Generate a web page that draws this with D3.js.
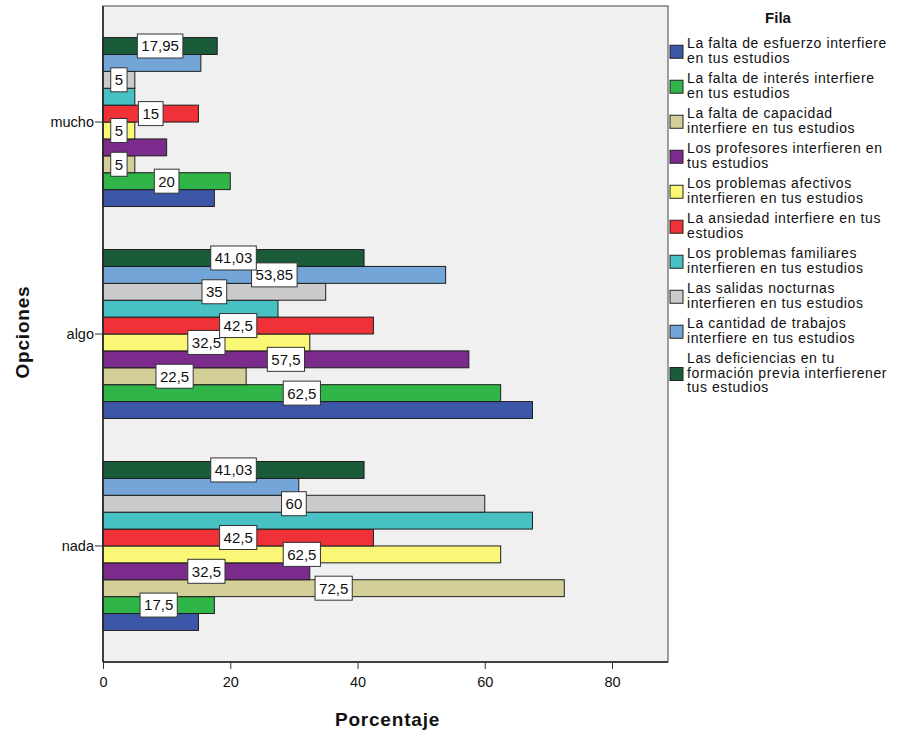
<!DOCTYPE html>
<html>
<head>
<meta charset="utf-8">
<script src="https://cdn.jsdelivr.net/npm/d3@7"></script>
<style>
  body { margin: 0; background: #fff; }
  text { font-family: "Liberation Sans", Arial, sans-serif; }
</style>
</head>
<body>
<div id="chart"></div>
<script>
// categories on the y axis, top to bottom
const categories = ['mucho', 'algo', 'nada']

// percentage per category [mucho, algo, nada]
const esfuerzo   = [17.5, 67.5, 15]
const interes    = [20, 62.5, 17.5]
const capacidad  = [5, 22.5, 72.5]
const profesores = [10, 57.5, 32.5]
const afectivos  = [5, 32.5, 62.5]
const ansiedad   = [15, 42.5, 42.5]
const familiares = [5, 27.5, 67.5]
const salidas    = [5, 35, 60]
const trabajos   = [15.38, 53.85, 30.77]
const formacion  = [17.95, 41.03, 41.03]

const seriesValues = [esfuerzo, interes, capacidad, profesores, afectivos,
                      ansiedad, familiares, salidas, trabajos, formacion]

const legendLines = [
  ['La falta de esfuerzo interfiere', 'en tus estudios'],
  ['La falta de interés interfiere', 'en tus estudios'],
  ['La falta de capacidad', 'interfiere en tus estudios'],
  ['Los profesores interfieren en', 'tus estudios'],
  ['Los problemas afectivos', 'interfieren en tus estudios'],
  ['La ansiedad interfiere en tus', 'estudios'],
  ['Los problemas familiares', 'interfieren en tus estudios'],
  ['Las salidas nocturnas', 'interfieren en tus estudios'],
  ['La cantidad de trabajos', 'interfiere en tus estudios'],
  ['Las deficiencias en tu', 'formación previa interfierener', 'tus estudios']
]

const colors = ['#3d57a8', '#2fb548', '#d4cf98', '#7a2b8c', '#fbf776',
                '#ee3237', '#47c1c4', '#cbcbcb', '#73a5d9', '#1a5b39']

// which series carry a value label, per category (series index)
const labelsMucho = [1, 2, 4, 5, 7, 9]
const labelsAlgo  = [1, 2, 3, 4, 5, 7, 8, 9]
const labelsNada  = [1, 2, 3, 4, 5, 7, 9]
const labelSets = [labelsMucho, labelsAlgo, labelsNada]

const xTicks = [0, 20, 40, 60, 80]

const W = 906, H = 731
const plot = {left: 103, right: 668, top: 6, bottom: 662}

const svg = d3.select('#chart').append('svg')
    .attr('width', W)
    .attr('height', H)

// plot background
svg.append('rect')
    .attr('x', plot.left).attr('y', plot.top)
    .attr('width', plot.right - plot.left)
    .attr('height', plot.bottom - plot.top)
    .attr('fill', '#f0f0f0')
    .attr('stroke', '#444')
    .attr('stroke-width', 1)

const x = d3.scaleLinear()
    .domain([0, 88.8])
    .range([plot.left, plot.right])

const y = d3.scaleBand()
    .domain(categories)
    .range([plot.top, plot.bottom])
    .paddingInner(0.203)
    .paddingOuter(0.149)

// series 0 at the bottom of each group
const ySeries = d3.scaleBand()
    .domain(d3.range(seriesValues.length).reverse())
    .range([0, y.bandwidth()])

const rows = []
categories.forEach((c, ci) => {
    seriesValues.forEach((vals, si) => {
        rows.push({cat: c, ci: ci, si: si, value: vals[ci]})
    })
})

svg.append('g').selectAll('rect')
    .data(rows)
    .enter()
    .append('rect')
        .attr('x', x(0))
        .attr('y', d => y(d.cat) + ySeries(d.si))
        .attr('width', d => x(d.value) - x(0))
        .attr('height', ySeries.bandwidth())
        .attr('fill', d => colors[d.si])
        .attr('stroke', '#1e1e1e')
        .attr('stroke-width', 1)

// value labels in white boxes, centred on the bar
const labelRows = rows.filter(d => labelSets[d.ci].includes(d.si))
const lab = svg.append('g').selectAll('g')
    .data(labelRows)
    .enter()
    .append('g')
        .attr('transform', d => 'translate(' + (x(0) + x(d.value)) / 2 + ','
              + (y(d.cat) + ySeries(d.si) + ySeries.bandwidth() / 2) + ')')

lab.append('text')
    .attr('text-anchor', 'middle')
    .attr('dy', '0.36em')
    .style('font-size', '15px')
    .attr('fill', '#111')
    .text(d => String(d.value).replace('.', ','))

lab.each(function() {
    const g = d3.select(this)
    const bb = g.select('text').node().getBBox()
    g.insert('rect', 'text')
        .attr('x', bb.x - 4)
        .attr('y', -12)
        .attr('width', bb.width + 8)
        .attr('height', 24)
        .attr('fill', '#fff')
        .attr('stroke', '#333')
        .attr('stroke-width', 1)
})

// axes
const xAxis = svg.append('g')
    .attr('transform', 'translate(0,' + plot.bottom + ')')
    .call(d3.axisBottom(x).tickValues(xTicks).tickSize(7).tickPadding(8))
const yAxis = svg.append('g')
    .attr('transform', 'translate(' + plot.left + ',0)')
    .call(d3.axisLeft(y).tickSize(8).tickPadding(1))

;[xAxis, yAxis].forEach(a => {
    a.select('.domain').attr('stroke', '#222').attr('stroke-width', 1.5)
    a.selectAll('.tick line').attr('stroke', '#333')
    a.selectAll('.tick text')
        .style('font-size', '14.5px')
        .style('font-family', '"Liberation Sans", Arial, sans-serif')
        .attr('fill', '#111')
})
yAxis.select('.domain').attr('d', 'M0,' + plot.top + 'V' + plot.bottom)
xAxis.select('.domain').attr('d', 'M' + plot.left + ',0H' + plot.right)

// axis titles
svg.append('text')
    .attr('x', (plot.left + plot.right) / 2 + 2)
    .attr('y', 726)
    .attr('text-anchor', 'middle')
    .style('font-size', '19px')
    .style('font-weight', 'bold')
    .style('letter-spacing', '0.8px')
    .attr('fill', '#111')
    .text('Porcentaje')

svg.append('text')
    .attr('transform', 'translate(29,332) rotate(-90)')
    .attr('text-anchor', 'middle')
    .style('font-size', '19px')
    .style('font-weight', 'bold')
    .style('letter-spacing', '0.8px')
    .attr('fill', '#111')
    .text('Opciones')

// legend
const legend = svg.append('g')
legend.append('text')
    .attr('x', 778)
    .attr('y', 23)
    .attr('text-anchor', 'middle')
    .style('font-size', '15px')
    .style('font-weight', 'bold')
    .attr('fill', '#111')
    .text('Fila')

const lineStep = 14.5, itemStep = 35
const item = legend.selectAll('g.item')
    .data(legendLines)
    .enter()
    .append('g')
        .attr('class', 'item')
        .attr('transform', (d, i) => 'translate(0,' + (48 + i * itemStep) + ')')

item.append('rect')
    .attr('x', 670)
    .attr('y', d => (d.length - 1) * lineStep / 2 - 10)
    .attr('width', 13)
    .attr('height', 13)
    .attr('fill', (d, i) => colors[i])
    .attr('stroke', '#222')
    .attr('stroke-width', 1)

item.selectAll('text')
    .data(d => d)
    .enter()
    .append('text')
        .attr('x', 687)
        .attr('y', (d, j) => j * lineStep)
        .style('font-size', '14px')
        .style('letter-spacing', '0.6px')
        .attr('fill', '#111')
        .text(d => d)
</script>
</body>
</html>
